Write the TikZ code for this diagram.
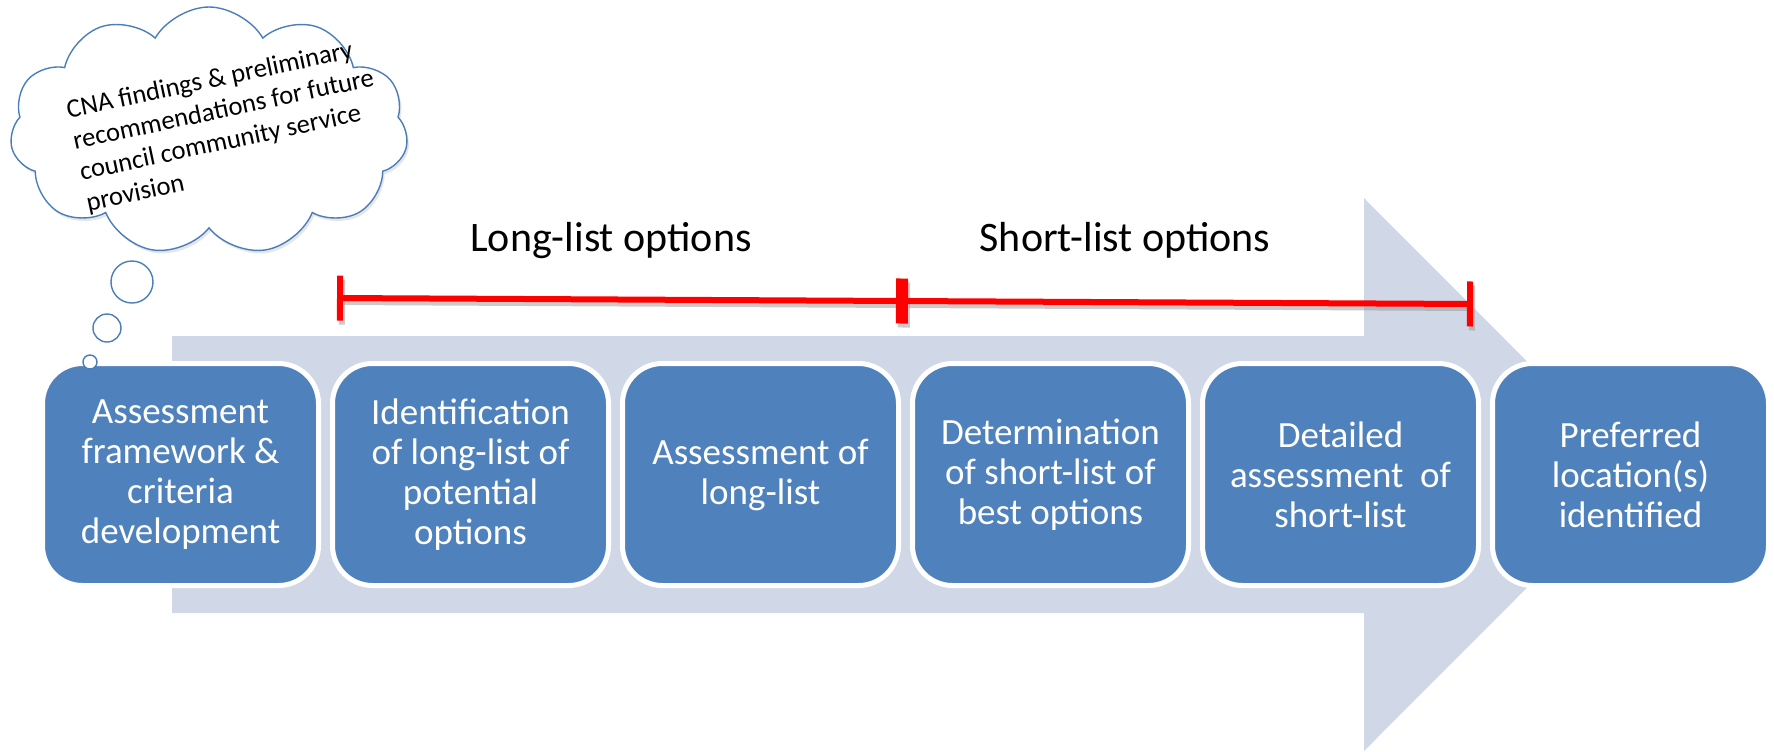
\documentclass[tikz,border=0pt]{standalone}
\usepackage{fontspec}
\setmainfont{Carlito}
\usetikzlibrary{shapes.symbols,arrows.meta,shadows}
\definecolor{boxblue}{HTML}{4F81BD}
\definecolor{arrowgray}{HTML}{D0D8E8}
\definecolor{cloudblue}{HTML}{4A7EBB}
\begin{document}
\begin{tikzpicture}[x=.5pt,y=-.5pt,
  stepbox/.style={draw=white,line width=2.5pt,fill=boxblue,rounded corners=20pt,
    minimum width=138pt,minimum height=111pt,align=center,text=white,
    font=\fontsize{18.5}{20}\selectfont},
  phase/.style={font=\fontsize{21}{25}\selectfont,anchor=base},
  rangebar/.style={red,line width=3pt,{Bar[width=22.5pt]}-{Bar[width=22.5pt]}},
  rangeshadow/.style={black!45,opacity=.45,line width=3pt,{Bar[width=22.5pt]}-{Bar[width=22.5pt]}},
  bubble/.style={draw=cloudblue,line width=.7pt,fill=white}]
\useasboundingbox (0,0) rectangle (1774,751);
%
\fill[arrowgray] (172,336) -- (1364,336) -- (1364,198) -- (1640,474.5)
  -- (1364,751) -- (1364,613) -- (172,613) -- cycle;
%
\coordinate (t1) at (337,298);
\coordinate (t2) at (902,301);
\coordinate (t3) at (1473,304);
\draw[rangeshadow,transform canvas={shift={(1pt,-2pt)}}] (t1) -- (t2);
\draw[rangeshadow,transform canvas={shift={(1pt,-2pt)}}] (t2) -- (t3);
\draw[rangebar] (t1) -- (t2);
\draw[rangebar] (t2) -- (t3);
\node[phase] (longlbl) at (611,251) {Long-list options};
\node[phase] (shortlbl) at (1125,251) {Short-list options};
%
\node[stepbox] (frame) at (180.5,474.5) {Assessment\\framework \&\\criteria\\development};
\node[stepbox] (longlist) at (470.5,474.5) {Identification\\of long-list of\\potential\\options};
\node[stepbox] (assess) at (760.5,474.5) {Assessment of\\long-list};
\node[stepbox] (shortlist) at (1050.5,474.5) {Determination\\of short-list of\\best options};
\node[stepbox] (detail) at (1340.5,474.5) {Detailed\\assessment\ \ of\\short-list};
\node[stepbox] (pref) at (1630.5,474.5) {Preferred\\location(s)\\identified};
%
\node[cloud,cloud puffs=11,cloud puff arc=120,cloud ignores aspect,
  minimum width=199pt,minimum height=124pt,bubble,
  drop shadow={opacity=.2,shadow xshift=1pt,shadow yshift=-1.5pt}] (cloud) at (209,131) {};
\node[rotate=12,align=left,inner sep=0,font=\fontsize{13.3}{15.8}\selectfont] (cloudtext)
  at (227,126) {CNA findings \& preliminary\\recommendations for future\\council community service\\provision};
\node[circle,bubble,inner sep=0,minimum size=21pt] (bub1) at (132,282) {};
\node[circle,bubble,inner sep=0,minimum size=14pt] (bub2) at (107,328) {};
\node[circle,bubble,inner sep=0,minimum size=7pt] (bub3) at (90,362) {};
\end{tikzpicture}
\end{document}
